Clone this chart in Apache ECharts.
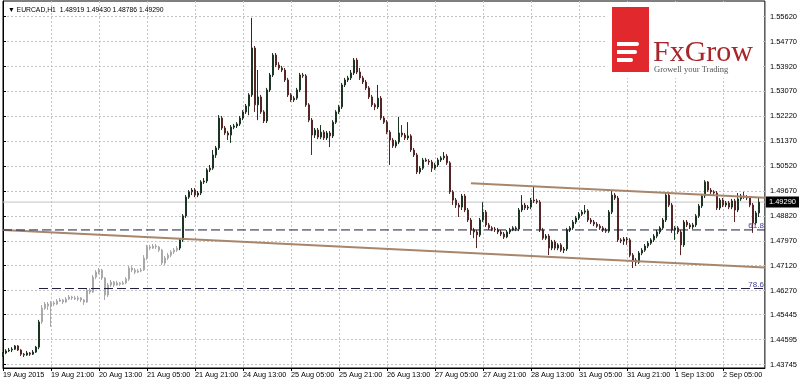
<!DOCTYPE html>
<html>
<head>
<meta charset="utf-8">
<script src="https://cdn.jsdelivr.net/npm/echarts@6/dist/echarts.min.js"></script>
<style>html,body{margin:0;padding:0;background:#fff;}#c{width:800px;height:381px;}</style>
</head>
<body>
<div id="c"></div>
<script>
// ---- data (EURCAD H1) ----
const tickLabels = ["19 Aug 2015","19 Aug 21:00","20 Aug 13:00","21 Aug 05:00","21 Aug 21:00","24 Aug 13:00","25 Aug 05:00","25 Aug 21:00","26 Aug 13:00","27 Aug 05:00","27 Aug 21:00","28 Aug 13:00","31 Aug 05:00","31 Aug 21:00","1 Sep 13:00","2 Sep 05:00"];
const barsPerLabel = 16;
const slotCount = 255;
const priceTicks = [1.55620,1.54770,1.53920,1.53070,1.52220,1.51370,1.50520,1.49670,1.48820,1.47970,1.47120,1.46270,1.45445,1.44595,1.43745];

const close = [
1.4414,1.4421,1.4424,1.4427,1.4438,1.4424,1.4410,1.4407,1.4414,1.4410,
1.4417,1.4434,1.4520,1.4567,1.4581,1.4574,1.4585,1.4581,1.4591,1.4595,
1.4588,1.4598,1.4605,1.4602,1.4598,1.4602,1.4595,1.4588,1.4629,1.4622,
1.4673,1.4690,1.4697,1.4670,1.4612,1.4646,1.4656,1.4646,1.4653,1.4649,
1.4653,1.4666,1.4704,1.4697,1.4690,1.4694,1.4697,1.4738,1.4776,1.4772,
1.4779,1.4776,1.4765,1.4721,1.4738,1.4748,1.4759,1.4765,1.4772,1.4800,
1.4882,1.4946,1.4964,1.4970,1.4953,1.4960,1.4998,1.5001,1.5039,1.5045,
1.5090,1.5114,1.5216,1.5182,1.5165,1.5158,1.5185,1.5189,1.5196,1.5216,
1.5237,1.5257,1.5295,1.5455,1.5261,1.5288,1.5237,1.5206,1.5312,1.5363,
1.5431,1.5397,1.5387,1.5380,1.5346,1.5295,1.5278,1.5284,1.5312,1.5363,
1.5360,1.5261,1.5209,1.5158,1.5175,1.5151,1.5168,1.5148,1.5165,1.5155,
1.5202,1.5237,1.5254,1.5329,1.5346,1.5353,1.5370,1.5414,1.5373,1.5353,
1.5339,1.5319,1.5288,1.5261,1.5254,1.5284,1.5216,1.5202,1.5168,1.5141,
1.5121,1.5134,1.5165,1.5158,1.5148,1.5155,1.5107,1.5090,1.5032,1.5045,
1.5073,1.5069,1.5066,1.5045,1.5056,1.5073,1.5080,1.5086,1.5063,1.4964,
1.4936,1.4919,1.4912,1.4950,1.4902,1.4868,1.4834,1.4827,1.4817,1.4868,
1.4895,1.4851,1.4841,1.4837,1.4834,1.4827,1.4820,1.4810,1.4827,1.4834,
1.4841,1.4837,1.4902,1.4919,1.4909,1.4912,1.4936,1.4933,1.4929,1.4834,
1.4806,1.4813,1.4772,1.4793,1.4772,1.4783,1.4765,1.4769,1.4834,1.4841,
1.4861,1.4875,1.4888,1.4895,1.4899,1.4868,1.4861,1.4854,1.4847,1.4841,
1.4834,1.4830,1.4895,1.4953,1.4943,1.4800,1.4796,1.4803,1.4800,1.4748,
1.4731,1.4724,1.4755,1.4765,1.4779,1.4789,1.4800,1.4813,1.4827,1.4841,
1.4868,1.4953,1.4919,1.4834,1.4841,1.4827,1.4783,1.4861,1.4851,1.4844,
1.4851,1.4882,1.4916,1.4950,1.4998,1.4970,1.4964,1.4960,1.4909,1.4936,
1.4919,1.4926,1.4912,1.4933,1.4902,1.4940,1.4950,1.4946,1.4943,1.4919,
1.4858,1.4892,1.4929];

const open = [
1.4404,1.4414,1.4421,1.4424,1.4427,1.4438,1.4424,1.4410,1.4407,1.4414,
1.4410,1.4417,1.4434,1.4520,1.4567,1.4581,1.4574,1.4585,1.4581,1.4591,
1.4595,1.4588,1.4598,1.4605,1.4602,1.4598,1.4602,1.4595,1.4588,1.4629,
1.4622,1.4673,1.4690,1.4697,1.4670,1.4612,1.4646,1.4656,1.4646,1.4653,
1.4649,1.4653,1.4666,1.4704,1.4697,1.4690,1.4694,1.4697,1.4738,1.4776,
1.4772,1.4779,1.4776,1.4765,1.4721,1.4738,1.4748,1.4759,1.4765,1.4772,
1.4800,1.4882,1.4946,1.4964,1.4970,1.4953,1.4960,1.4998,1.5001,1.5039,
1.5045,1.5090,1.5114,1.5216,1.5182,1.5165,1.5158,1.5185,1.5189,1.5196,
1.5216,1.5237,1.5257,1.5295,1.5455,1.5261,1.5288,1.5237,1.5206,1.5312,
1.5363,1.5431,1.5397,1.5387,1.5380,1.5346,1.5295,1.5278,1.5284,1.5312,
1.5363,1.5360,1.5261,1.5209,1.5158,1.5175,1.5151,1.5168,1.5148,1.5165,
1.5155,1.5202,1.5237,1.5254,1.5329,1.5346,1.5353,1.5370,1.5414,1.5373,
1.5353,1.5339,1.5319,1.5288,1.5261,1.5254,1.5284,1.5216,1.5202,1.5168,
1.5141,1.5121,1.5134,1.5165,1.5158,1.5148,1.5155,1.5107,1.5090,1.5032,
1.5045,1.5073,1.5069,1.5066,1.5045,1.5056,1.5073,1.5080,1.5086,1.5063,
1.4964,1.4936,1.4919,1.4912,1.4950,1.4902,1.4868,1.4834,1.4827,1.4817,
1.4868,1.4895,1.4851,1.4841,1.4837,1.4834,1.4827,1.4820,1.4810,1.4827,
1.4834,1.4841,1.4837,1.4902,1.4919,1.4909,1.4912,1.4936,1.4933,1.4929,
1.4834,1.4806,1.4813,1.4772,1.4793,1.4772,1.4783,1.4765,1.4769,1.4834,
1.4841,1.4861,1.4875,1.4888,1.4895,1.4899,1.4868,1.4861,1.4854,1.4847,
1.4841,1.4834,1.4830,1.4895,1.4953,1.4943,1.4800,1.4796,1.4803,1.4800,
1.4748,1.4731,1.4724,1.4755,1.4765,1.4779,1.4789,1.4800,1.4813,1.4827,
1.4841,1.4868,1.4953,1.4919,1.4834,1.4841,1.4827,1.4783,1.4861,1.4851,
1.4844,1.4851,1.4882,1.4916,1.4950,1.4998,1.4970,1.4964,1.4960,1.4909,
1.4936,1.4919,1.4926,1.4912,1.4933,1.4902,1.4940,1.4950,1.4946,1.4943,
1.4919,1.4858,1.4892];

const high = [
1.4417,1.4427,1.4431,1.4434,1.4441,1.4441,1.4427,1.4414,1.4421,1.4417,
1.4424,1.4438,1.4527,1.4578,1.4588,1.4588,1.4591,1.4591,1.4598,1.4602,
1.4598,1.4605,1.4612,1.4609,1.4609,1.4609,1.4605,1.4598,1.4636,1.4636,
1.4680,1.4697,1.4704,1.4701,1.4673,1.4653,1.4663,1.4660,1.4660,1.4656,
1.4660,1.4673,1.4711,1.4711,1.4704,1.4701,1.4704,1.4748,1.4783,1.4783,
1.4786,1.4786,1.4779,1.4769,1.4745,1.4755,1.4765,1.4772,1.4779,1.4806,
1.4888,1.4953,1.4970,1.4977,1.4977,1.4967,1.5004,1.5011,1.5045,1.5056,
1.5107,1.5121,1.5226,1.5223,1.5189,1.5172,1.5192,1.5196,1.5202,1.5223,
1.5243,1.5264,1.5301,1.5558,1.5462,1.5380,1.5295,1.5243,1.5319,1.5370,
1.5438,1.5438,1.5407,1.5394,1.5387,1.5353,1.5301,1.5291,1.5319,1.5370,
1.5370,1.5366,1.5267,1.5216,1.5182,1.5182,1.5192,1.5175,1.5172,1.5172,
1.5209,1.5243,1.5261,1.5336,1.5353,1.5360,1.5380,1.5421,1.5421,1.5387,
1.5360,1.5346,1.5325,1.5295,1.5267,1.5329,1.5291,1.5223,1.5209,1.5175,
1.5148,1.5141,1.5220,1.5192,1.5165,1.5202,1.5161,1.5114,1.5097,1.5052,
1.5080,1.5080,1.5076,1.5073,1.5063,1.5080,1.5086,1.5100,1.5093,1.5069,
1.4970,1.4943,1.4926,1.4957,1.4957,1.4909,1.4875,1.4841,1.4834,1.4875,
1.4929,1.4902,1.4858,1.4847,1.4844,1.4841,1.4834,1.4827,1.4834,1.4841,
1.4847,1.4847,1.4909,1.4953,1.4926,1.4919,1.4943,1.4981,1.4940,1.4936,
1.4841,1.4820,1.4820,1.4800,1.4800,1.4789,1.4789,1.4776,1.4841,1.4847,
1.4868,1.4882,1.4895,1.4902,1.4919,1.4905,1.4875,1.4868,1.4861,1.4854,
1.4847,1.4841,1.4902,1.4970,1.4960,1.4950,1.4806,1.4810,1.4810,1.4806,
1.4755,1.4738,1.4762,1.4772,1.4786,1.4796,1.4806,1.4820,1.4834,1.4847,
1.4875,1.4960,1.4960,1.4926,1.4847,1.4847,1.4834,1.4868,1.4868,1.4858,
1.4858,1.4888,1.4923,1.4957,1.5004,1.5001,1.4977,1.4970,1.4967,1.4943,
1.4943,1.4933,1.4933,1.4940,1.4940,1.4960,1.4957,1.4964,1.4953,1.4950,
1.4926,1.4899,1.4943];

const low = [
1.4400,1.4410,1.4417,1.4417,1.4424,1.4421,1.4404,1.4400,1.4404,1.4404,
1.4407,1.4414,1.4427,1.4513,1.4561,1.4561,1.4503,1.4574,1.4578,1.4588,
1.4581,1.4585,1.4595,1.4595,1.4595,1.4591,1.4588,1.4578,1.4585,1.4615,
1.4619,1.4666,1.4683,1.4663,1.4595,1.4605,1.4639,1.4639,1.4643,1.4643,
1.4646,1.4649,1.4660,1.4690,1.4683,1.4687,1.4690,1.4694,1.4731,1.4765,
1.4769,1.4769,1.4759,1.4714,1.4714,1.4731,1.4741,1.4752,1.4759,1.4765,
1.4793,1.4875,1.4940,1.4953,1.4946,1.4946,1.4953,1.4991,1.4994,1.5032,
1.5039,1.5080,1.5107,1.5175,1.5158,1.5141,1.5131,1.5178,1.5182,1.5189,
1.5209,1.5230,1.5226,1.5288,1.5237,1.5209,1.5230,1.5199,1.5199,1.5305,
1.5356,1.5390,1.5380,1.5373,1.5339,1.5288,1.5271,1.5271,1.5278,1.5305,
1.5353,1.5254,1.5202,1.5090,1.5148,1.5144,1.5144,1.5141,1.5141,1.5117,
1.5148,1.5196,1.5230,1.5247,1.5322,1.5339,1.5346,1.5363,1.5366,1.5346,
1.5332,1.5312,1.5281,1.5254,1.5243,1.5247,1.5209,1.5196,1.5161,1.5056,
1.5114,1.5114,1.5127,1.5151,1.5141,1.5141,1.5100,1.5083,1.5025,1.5025,
1.5039,1.5066,1.5056,1.5032,1.5039,1.5049,1.5066,1.5073,1.5056,1.4957,
1.4919,1.4909,1.4878,1.4902,1.4895,1.4861,1.4817,1.4806,1.4772,1.4810,
1.4861,1.4844,1.4834,1.4830,1.4827,1.4820,1.4813,1.4803,1.4806,1.4820,
1.4830,1.4830,1.4830,1.4895,1.4902,1.4902,1.4905,1.4926,1.4923,1.4827,
1.4800,1.4800,1.4748,1.4765,1.4765,1.4765,1.4759,1.4755,1.4762,1.4827,
1.4834,1.4854,1.4868,1.4882,1.4888,1.4861,1.4854,1.4847,1.4841,1.4834,
1.4827,1.4824,1.4824,1.4888,1.4936,1.4793,1.4789,1.4783,1.4783,1.4741,
1.4704,1.4711,1.4718,1.4748,1.4759,1.4772,1.4783,1.4793,1.4806,1.4820,
1.4834,1.4861,1.4912,1.4824,1.4800,1.4820,1.4748,1.4776,1.4844,1.4837,
1.4837,1.4844,1.4875,1.4909,1.4943,1.4964,1.4957,1.4953,1.4902,1.4902,
1.4912,1.4912,1.4905,1.4905,1.4861,1.4895,1.4933,1.4940,1.4936,1.4912,
1.4824,1.4851,1.4878];

// drawn objects (trend lines and Fibonacci levels), in [bar index, price]
const upperTrend = [[156, 1.4993], [254, 1.4944]];
const lowerTrend = [[0, 1.4834], [254, 1.4706]];
const fib618 = [[0, 1.4834], [254, 1.4834]];
const fib786 = [[12, 1.4634], [254, 1.4634]];
const fadedBars = [13, 58];

const yMin = 1.43627, yMax = 1.56156;
const titleText = '\u25BC EURCAD,H1  1.48919 1.49430 1.48786 1.49290';

// ---- build ----
const categories = Array.from({length: slotCount}, (_, i) => String(i));
const lastClose = close[close.length - 1];
const candles = close.map((c, i) => {
  const item = {value: [open[i], c, low[i], high[i]]};
  if (i >= fadedBars[0] && i <= fadedBars[1]) {
    item.itemStyle = {color: '#a9a9a9', color0: '#a9a9a9', borderColor: '#a9a9a9', borderColor0: '#a9a9a9'};
  }
  return item;
});
const onLabel = (i) => i % barsPerLabel === 0;
const FONT = 'Liberation Sans';

const chart = echarts.init(document.getElementById('c'), null, {renderer: 'canvas'});
chart.setOption({
  animation: false,
  backgroundColor: '#ffffff',
  textStyle: {fontFamily: FONT},
  title: {text: titleText, left: 3, top: 2, textStyle: {fontSize: 6.8, fontWeight: 'normal', color: '#000', fontFamily: FONT}},
  grid: {left: 1.5, right: 34, top: 1, bottom: 13, show: true, borderColor: '#000', borderWidth: 1, backgroundColor: 'transparent'},
  xAxis: [{
    type: 'category', data: categories, boundaryGap: false,
    axisLine: {lineStyle: {color: '#000', width: 1}},
    axisTick: {show: true, interval: (i) => onLabel(i), length: 3, lineStyle: {color: '#000'}},
    axisLabel: {interval: (i) => onLabel(i), formatter: (v, i) => tickLabels[Math.round(i / barsPerLabel)] || '', align: 'left', fontSize: 7.3, color: '#000', margin: 3, fontFamily: FONT},
    splitLine: {show: true, interval: (i) => onLabel(i), lineStyle: {type: [2, 2], color: '#c4c4c4', width: 1}}
  }, {
    type: 'value', min: 0, max: slotCount - 1, show: false
  }],
  yAxis: {
    type: 'value', position: 'right', min: yMin, max: yMax, scale: true,
    axisLine: {show: true, lineStyle: {color: '#000'}},
    axisTick: {show: true, length: 3, customValues: priceTicks, lineStyle: {color: '#000'}},
    axisLabel: {customValues: priceTicks, formatter: (v) => v.toFixed(5), fontSize: 7.5, color: '#000', margin: 5, fontFamily: FONT},
    splitLine: {show: true, lineStyle: {type: [2, 2], color: '#c4c4c4', width: 1}}
  },
  series: [
    {
      type: 'line', xAxisIndex: 1, z: 1, silent: true, showSymbol: false,
      data: [[0, lastClose], [slotCount - 1, lastClose]],
      lineStyle: {color: '#c4c4c4', width: 1},
      endLabel: {show: true, formatter: () => lastClose.toFixed(5), backgroundColor: '#000', color: '#fff', padding: [2, 3, 1, 3], fontSize: 7.5, distance: 1, fontFamily: FONT}
    },
    {
      type: 'candlestick', z: 2, data: candles, barWidth: 2,
      itemStyle: {color: '#1c3522', color0: '#552626', borderColor: '#1c3522', borderColor0: '#552626', borderWidth: 1}
    },
    {type: 'line', xAxisIndex: 1, z: 3, silent: true, showSymbol: false, data: lowerTrend, lineStyle: {color: '#a8866c', width: 2}},
    {type: 'line', xAxisIndex: 1, z: 3, silent: true, showSymbol: false, data: upperTrend, lineStyle: {color: '#a8866c', width: 2}},
    {
      type: 'line', xAxisIndex: 1, z: 3, silent: true, symbol: 'circle', symbolSize: 0,
      data: [fib618[0], {value: fib618[1], label: {show: true, formatter: '61.8', position: 'left', distance: 1, offset: [0, -4], color: '#3c3c96', fontSize: 8, fontFamily: FONT}}],
      lineStyle: {color: '#1c1c3c', width: 1, type: [9, 4]}
    },
    {
      type: 'line', xAxisIndex: 1, z: 3, silent: true, symbol: 'circle', symbolSize: 0,
      data: [fib786[0], {value: fib786[1], label: {show: true, formatter: '78.6', position: 'left', distance: 1, offset: [0, -4], color: '#3c3c96', fontSize: 8, fontFamily: FONT}}],
      lineStyle: {color: '#1c1c3c', width: 1, type: [9, 4]}
    }
  ],
  graphic: [
    {type: 'rect', z: 100, shape: {x: 605, y: 2, width: 157, height: 76}, style: {fill: '#fff'}},
    {type: 'rect', z: 101, shape: {x: 612, y: 7, width: 37, height: 65}, style: {fill: '#e1282c'}},
    {type: 'rect', z: 102, shape: {x: 617, y: 42, width: 22, height: 4, r: [0, 2, 2, 0]}, style: {fill: '#fff'}},
    {type: 'rect', z: 102, shape: {x: 617, y: 50, width: 20, height: 4, r: [0, 2, 2, 0]}, style: {fill: '#fff'}},
    {type: 'rect', z: 102, shape: {x: 617, y: 58, width: 16, height: 4, r: [0, 2, 2, 0]}, style: {fill: '#fff'}},
    {type: 'text', z: 102, style: {x: 653, y: 38, text: 'FxGrow', font: '30px "Liberation Serif"', fill: '#a8252b'}},
    {type: 'text', z: 102, style: {x: 654, y: 65, text: 'Growell your Trading', font: '8.5px "Liberation Serif"', fill: '#555'}}
  ]
});
</script>
</body>
</html>
